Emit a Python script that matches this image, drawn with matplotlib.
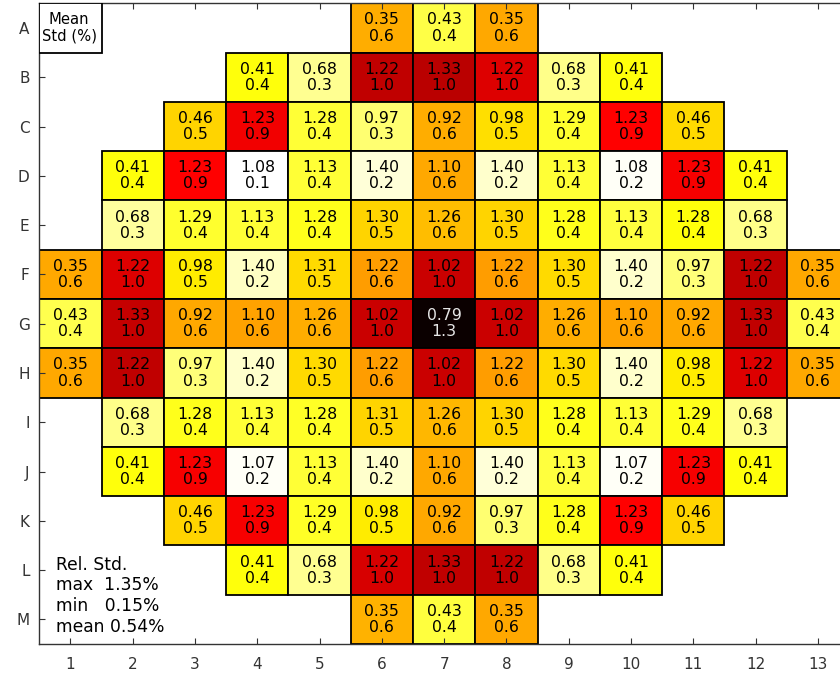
import numpy as np
import matplotlib
matplotlib.use("Agg")
import matplotlib.pyplot as plt
from matplotlib.patches import Rectangle
from matplotlib.colors import Normalize

# Row / column labels of the assembly map
row_labels = list("ABCDEFGHIJKLM")
col_labels = [str(c) for c in range(1, 14)]

# First occupied column (1-based) of every row
row_start = [6, 4, 3, 2, 2, 1, 1, 1, 2, 2, 3, 4, 6]

# Mean values per row
mean_rows = [
    [0.35, 0.43, 0.35],
    [0.41, 0.68, 1.22, 1.33, 1.22, 0.68, 0.41],
    [0.46, 1.23, 1.28, 0.97, 0.92, 0.98, 1.29, 1.23, 0.46],
    [0.41, 1.23, 1.08, 1.13, 1.40, 1.10, 1.40, 1.13, 1.08, 1.23, 0.41],
    [0.68, 1.29, 1.13, 1.28, 1.30, 1.26, 1.30, 1.28, 1.13, 1.28, 0.68],
    [0.35, 1.22, 0.98, 1.40, 1.31, 1.22, 1.02, 1.22, 1.30, 1.40, 0.97, 1.22, 0.35],
    [0.43, 1.33, 0.92, 1.10, 1.26, 1.02, 0.79, 1.02, 1.26, 1.10, 0.92, 1.33, 0.43],
    [0.35, 1.22, 0.97, 1.40, 1.30, 1.22, 1.02, 1.22, 1.30, 1.40, 0.98, 1.22, 0.35],
    [0.68, 1.28, 1.13, 1.28, 1.31, 1.26, 1.30, 1.28, 1.13, 1.29, 0.68],
    [0.41, 1.23, 1.07, 1.13, 1.40, 1.10, 1.40, 1.13, 1.07, 1.23, 0.41],
    [0.46, 1.23, 1.29, 0.98, 0.92, 0.97, 1.28, 1.23, 0.46],
    [0.41, 0.68, 1.22, 1.33, 1.22, 0.68, 0.41],
    [0.35, 0.43, 0.35],
]

# Relative standard deviation (%) per row
std_rows = [
    [0.60, 0.37, 0.61],
    [0.44, 0.28, 1.02, 1.03, 0.97, 0.29, 0.44],
    [0.53, 0.93, 0.39, 0.32, 0.60, 0.51, 0.40, 0.91, 0.52],
    [0.44, 0.91, 0.149, 0.39, 0.20, 0.61, 0.21, 0.39, 0.16, 0.92, 0.44],
    [0.27, 0.40, 0.39, 0.42, 0.53, 0.57, 0.53, 0.42, 0.38, 0.44, 0.29],
    [0.61, 0.97, 0.49, 0.22, 0.52, 0.63, 1.00, 0.63, 0.52, 0.21, 0.31, 1.02, 0.61],
    [0.36, 1.01, 0.61, 0.62, 0.60, 1.00, 1.345, 1.00, 0.60, 0.62, 0.61, 1.02, 0.36],
    [0.61, 1.02, 0.31, 0.21, 0.52, 0.63, 1.00, 0.63, 0.52, 0.21, 0.49, 0.97, 0.61],
    [0.29, 0.42, 0.39, 0.41, 0.53, 0.58, 0.53, 0.42, 0.39, 0.42, 0.28],
    [0.44, 0.92, 0.16, 0.39, 0.21, 0.61, 0.20, 0.38, 0.16, 0.92, 0.44],
    [0.53, 0.92, 0.41, 0.49, 0.61, 0.32, 0.42, 0.91, 0.53],
    [0.44, 0.28, 0.98, 1.02, 1.02, 0.29, 0.44],
    [0.59, 0.38, 0.61],
]

# Summary of the relative standard deviation
stat_max, stat_min, stat_mean = 1.35, 0.15, 0.54

n_rows, n_cols = len(row_labels), len(col_labels)
mean_grid = np.full((n_rows, n_cols), np.nan)
std_grid = np.full((n_rows, n_cols), np.nan)
for r, (start, means, stds) in enumerate(zip(row_start, mean_rows, std_rows)):
    for k, (m, s) in enumerate(zip(means, stds)):
        mean_grid[r, start - 1 + k] = m
        std_grid[r, start - 1 + k] = s

norm = Normalize(vmin=np.nanmin(std_grid), vmax=np.nanmax(std_grid))
cmap = plt.get_cmap("hot_r")

plt.rcParams["font.family"] = ["DejaVu Sans"]
fig = plt.figure(figsize=(8.4, 6.77), dpi=100)
ax = fig.add_axes([0.0468, 0.0487, 0.964, 0.9464])

for r in range(n_rows):
    for c in range(n_cols):
        s = std_grid[r, c]
        if np.isnan(s):
            continue
        ax.add_patch(Rectangle((c + 0.5, r + 0.5), 1, 1,
                               facecolor=cmap(norm(s)), edgecolor="black",
                               linewidth=1.3))
        color = "#e6e6e6" if norm(s) > 0.85 else "black"
        ax.text(c + 1, r + 1, f"{mean_grid[r, c]:.2f}\n{s:.1f}",
                ha="center", va="center", fontsize=11.3, color=color,
                linespacing=1.1)

# Key box in the top-left corner
ax.add_patch(Rectangle((0.5, 0.5), 1, 1, facecolor="white",
                       edgecolor="black", linewidth=1.3, zorder=3))
ax.text(0.98, 1.0, "Mean\nStd (%)", ha="center", va="center",
        fontsize=10.6, linespacing=1.1, zorder=4)

ax.text(0.76, 12.52,
        f"Rel. Std.\nmax  {stat_max:.2f}%\nmin   {stat_min:.2f}%\nmean {stat_mean:.2f}%",
        ha="left", va="center", fontsize=12.3, linespacing=1.2)

ax.set_xlim(0.5, n_cols + 0.5)
ax.set_ylim(n_rows + 0.5, 0.5)
ax.set_xticks(np.arange(1, n_cols + 1))
ax.set_xticklabels(col_labels)
ax.set_yticks(np.arange(1, n_rows + 1))
ax.set_yticklabels(row_labels)
ax.tick_params(direction="in", length=4, width=0.8, top=True, right=True,
               labelsize=11, colors="#333333")
ax.tick_params(axis="x", pad=9)
ax.tick_params(axis="y", pad=7)
for sp in ax.spines.values():
    sp.set_linewidth(1.0)
    sp.set_color("#333333")

fig.savefig("out.png", dpi=100)
